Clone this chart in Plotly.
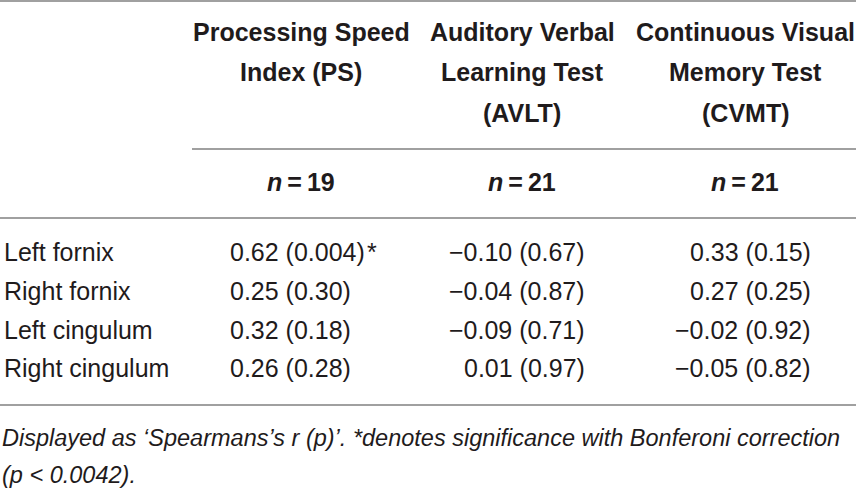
import plotly.graph_objects as go

# table content
regions = ["Left fornix", "Right fornix", "Left cingulum", "Right cingulum"]
tests = [["Processing Speed", "Index (PS)"],
         ["Auditory Verbal", "Learning Test", "(AVLT)"],
         ["Continuous Visual", "Memory Test", "(CVMT)"]]
n_sizes = [19, 21, 21]
ps_r = ["0.62", "0.25", "0.32", "0.26"]
ps_p = ["0.004", "0.30", "0.18", "0.28"]
avlt_r = ["−0.10", "−0.04", "−0.09", "0.01"]
avlt_p = ["0.67", "0.87", "0.71", "0.97"]
cvmt_r = ["0.33", "0.27", "−0.02", "−0.05"]
cvmt_p = ["0.15", "0.25", "0.92", "0.82"]
significant = [[True, False, False, False],
               [False, False, False, False],
               [False, False, False, False]]
footnote = ["Displayed as ‘Spearmans’s r (p)’. *denotes significance with Bonferoni correction",
            "(p < 0.0042)."]

W, H = 856, 491
INK = "#1f1b1c"
RULE = "#a0a0a0"
FONT = "Liberation Sans, Arial, sans-serif"

# layout geometry (pixels)
col_center = [301, 522, 745]
col_anchor = [("left", 228), ("right", 587), ("right", 813)]
header_y = [32, 72, 113]
n_y = 182
row_y = [252, 291, 330, 368]
foot_y = [438, 475]

fig = go.Figure()
anns = []

for lines, cx in zip(tests, col_center):
    for line, y in zip(lines, header_y):
        anns.append(dict(x=cx, y=y, text="<b>" + line + "</b>", xanchor="center",
                         yanchor="middle", font=dict(size=25, color=INK, family=FONT)))

for n, cx in zip(n_sizes, col_center):
    anns.append(dict(x=cx, y=n_y, text="<b><i>n</i>\u2009=\u2009%d</b>" % n,
                     xanchor="center", yanchor="middle",
                     font=dict(size=25, color=INK, family=FONT)))

for reg, y in zip(regions, row_y):
    anns.append(dict(x=2, y=y, text=reg, xanchor="left", yanchor="middle",
                     font=dict(size=25, color=INK, family=FONT)))

cols = [(ps_r, ps_p), (avlt_r, avlt_p), (cvmt_r, cvmt_p)]
for ci, (rs, ps) in enumerate(cols):
    anchor, ax = col_anchor[ci]
    for ri, (r, p) in enumerate(zip(rs, ps)):
        txt = "%s (%s)" % (r, p)
        if significant[ci][ri]:
            txt += "\u200a*"
        anns.append(dict(x=ax, y=row_y[ri], text=txt, xanchor=anchor, yanchor="middle",
                         font=dict(size=25, color=INK, family=FONT)))

for line, y in zip(footnote, foot_y):
    anns.append(dict(x=0, y=y, text="<i>" + line + "</i>", xanchor="left",
                     yanchor="middle", font=dict(size=23.5, color=INK, family=FONT)))

for a in anns:
    a.update(xref="x", yref="y", showarrow=False)

shapes = [
    dict(type="line", x0=0, x1=W, y0=1, y1=1),
    dict(type="line", x0=192, x1=W, y0=149, y1=149),
    dict(type="line", x0=0, x1=W, y0=218, y1=218),
    dict(type="line", x0=0, x1=W, y0=405, y1=405),
]
for s in shapes:
    s.update(xref="x", yref="y", line=dict(color=RULE, width=2))

fig.update_layout(
    width=W, height=H,
    margin=dict(l=0, r=0, t=0, b=0),
    paper_bgcolor="white", plot_bgcolor="white",
    annotations=anns, shapes=shapes,
    showlegend=False,
)
fig.update_xaxes(range=[0, W], visible=False, fixedrange=True)
fig.update_yaxes(range=[H, 0], visible=False, fixedrange=True)

fig.write_html("out.html", config={"displayModeBar": False},
               post_script="document.body.style.margin='0';document.body.style.overflow='hidden';")
